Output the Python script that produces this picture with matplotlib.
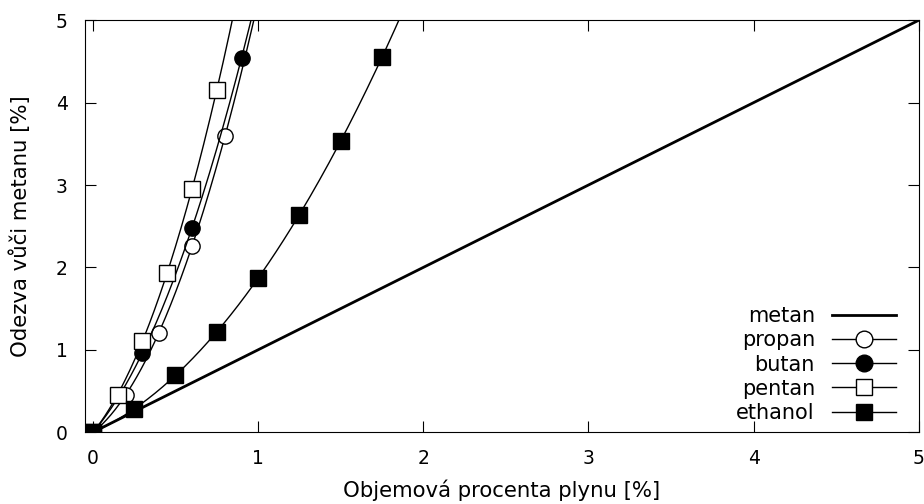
import numpy as np
import matplotlib
matplotlib.use("Agg")
import matplotlib.pyplot as plt

# Data (x = objemova procenta, y = odezva)
propan_x = [0, 0.2, 0.4, 0.6, 0.8]
propan_y = [0, 0.45, 1.21, 2.26, 3.59]
butan_x = [0, 0.3, 0.6, 0.9]
butan_y = [0, 0.96, 2.48, 4.54]
pentan_x = [0, 0.15, 0.3, 0.45, 0.6, 0.75]
pentan_y = [0, 0.45, 1.11, 1.93, 2.95, 4.15]
ethanol_x = [0, 0.25, 0.5, 0.75, 1.0, 1.25, 1.5, 1.75]
ethanol_y = [0, 0.28, 0.69, 1.22, 1.87, 2.64, 3.53, 4.55]
metan_x = [0, 5]
metan_y = [0, 5]

fig = plt.figure(figsize=(9.24, 5.04), dpi=100)
ax = fig.add_axes([0.0915, 0.1423, 0.903, 0.8177])

ax.plot(metan_x, metan_y, color="black", lw=2, label="metan")

series = [
    ("propan", propan_x, propan_y, "o", "white"),
    ("butan", butan_x, butan_y, "o", "black"),
    ("pentan", pentan_x, pentan_y, "s", "white"),
    ("ethanol", ethanol_x, ethanol_y, "s", "black"),
]
for name, xs, ys, m, fc in series:
    # quadratic fit curve through the measured points
    c = np.polyfit(xs, ys, 2)
    xx = np.linspace(0, max(xs) * 1.3, 200)
    ax.plot(xx, np.polyval(c, xx), color="black", lw=1)
    ax.plot(xs, ys, ls="none", marker=m, ms=11, mfc=fc, mec="black", mew=1)
    ax.plot([], [], color="black", lw=1, marker=m, ms=12, mfc=fc, mec="black",
            label=name)

ax.set_xlim(-0.05, 5)
ax.set_ylim(0, 5)
ax.set_xticks(range(6))
ax.set_yticks(range(6))
ax.tick_params(direction="in", top=True, right=True, length=8, labelsize=13.5, pad=12)
ax.set_xlabel("Objemová procenta plynu [%]", fontsize=15.3, labelpad=8)
ax.set_ylabel("Odezva vůči metanu [%]", fontsize=15.3, labelpad=18)

ax.legend(loc="lower right", bbox_to_anchor=(0.984, 0.0), frameon=False,
          markerfirst=False, fontsize=15, handlelength=3.1, labelspacing=0.2,
          borderaxespad=0.05, handletextpad=0.8)

fig.savefig("out.png", dpi=100)
